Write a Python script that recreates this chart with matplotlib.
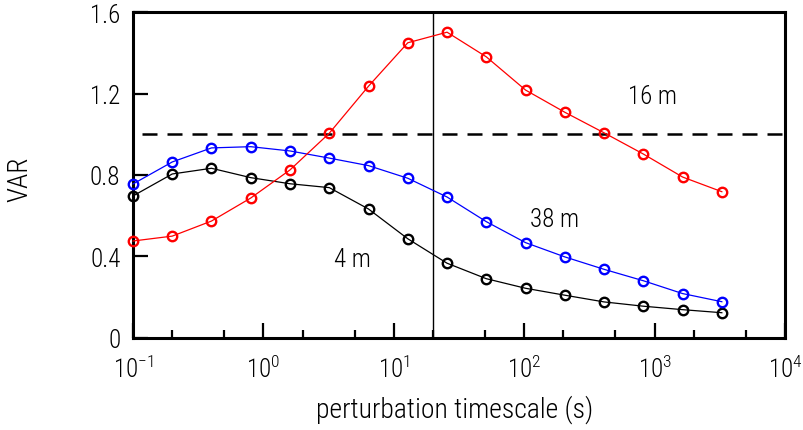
import numpy as np
import matplotlib
matplotlib.use("Agg")
import matplotlib.pyplot as plt
from matplotlib.ticker import LogLocator, FixedLocator

plt.rcParams['font.family'] = ['Roboto Condensed', 'DejaVu Sans']
plt.rcParams['font.weight'] = 'light'
plt.rcParams['axes.labelweight'] = 'light'
plt.rcParams['mathtext.fontset'] = 'custom'
plt.rcParams['mathtext.rm'] = 'Roboto Condensed:light'
plt.rcParams['mathtext.default'] = 'regular'
plt.rcParams['axes.unicode_minus'] = False

timescale = [0.1, 0.2, 0.4, 0.8, 1.6, 3.2, 6.4, 12.8, 25.6, 51.2,
             102.4, 204.8, 409.6, 819.2, 1638.4, 3276.8]
var_16m = [0.476, 0.50, 0.574, 0.687, 0.825, 1.005, 1.236, 1.449, 1.501, 1.380,
           1.217, 1.108, 1.007, 0.903, 0.790, 0.718]
var_38m = [0.756, 0.864, 0.933, 0.939, 0.918, 0.883, 0.846, 0.784, 0.692, 0.571,
           0.468, 0.398, 0.337, 0.281, 0.218, 0.178]
var_4m = [0.697, 0.805, 0.833, 0.787, 0.757, 0.738, 0.633, 0.487, 0.367, 0.291,
          0.244, 0.210, 0.177, 0.156, 0.139, 0.124]
yticks = [0, 0.4, 0.8, 1.2, 1.6]
ytick_labels = ["0", "0.4", "0.8", "1.2", "1.6"]

fig = plt.figure(figsize=(8.04, 4.31), dpi=100)
ax = fig.add_axes([0.1654, 0.2135, 0.811, 0.7563])

mk = dict(marker='o', markersize=6.8, markerfacecolor='none', markeredgewidth=1.7,
          linewidth=0.9, clip_on=False, zorder=3)
ax.plot(timescale, var_4m, color='black', markeredgecolor='black', **mk)
ax.plot(timescale, var_38m, color='blue', markeredgecolor='blue', **mk)
ax.plot(timescale, var_16m, color='red', markeredgecolor='red', **mk)

ax.axvline(20, color='black', linewidth=1.0, zorder=2)
ax.plot([0.117, 1e4], [1.0, 1.0], color='black', linewidth=1.8,
        linestyle=(0, (6, 4)), zorder=2)

ax.set_xscale('log')
ax.set_xlim(1e-1, 1e4)
ax.set_ylim(0, 1.6)

ax.xaxis.set_major_locator(LogLocator(base=10, numticks=10))
ax.xaxis.set_minor_locator(LogLocator(base=10, subs=(2, 5), numticks=10))
ax.yaxis.set_major_locator(FixedLocator(yticks))
ax.set_yticklabels(ytick_labels)

for s in ax.spines.values():
    s.set_linewidth(2.2)

ax.tick_params(axis='both', which='major', direction='in', length=11, width=1.6,
               labelsize=18, top=False, right=False)
ax.tick_params(axis='x', which='minor', direction='in', length=6, width=1.6,
               top=False)
ax.tick_params(axis='x', which='major', pad=12)
ax.tick_params(axis='y', which='major', pad=9)

ax.set_xlabel('perturbation timescale (s)', fontsize=20)
ax.set_ylabel('VAR', fontsize=20)
ax.xaxis.set_label_coords(0.494, -0.172)
ax.yaxis.set_label_coords(-0.153, 0.49)

ax.text(970, 1.188, '16 m', fontsize=18, ha='center', va='center')
ax.text(170, 0.584, '38 m', fontsize=18, ha='center', va='center')
ax.text(4.8, 0.388, '4 m', fontsize=18, ha='center', va='center')

fig.savefig('out.png', dpi=100)
